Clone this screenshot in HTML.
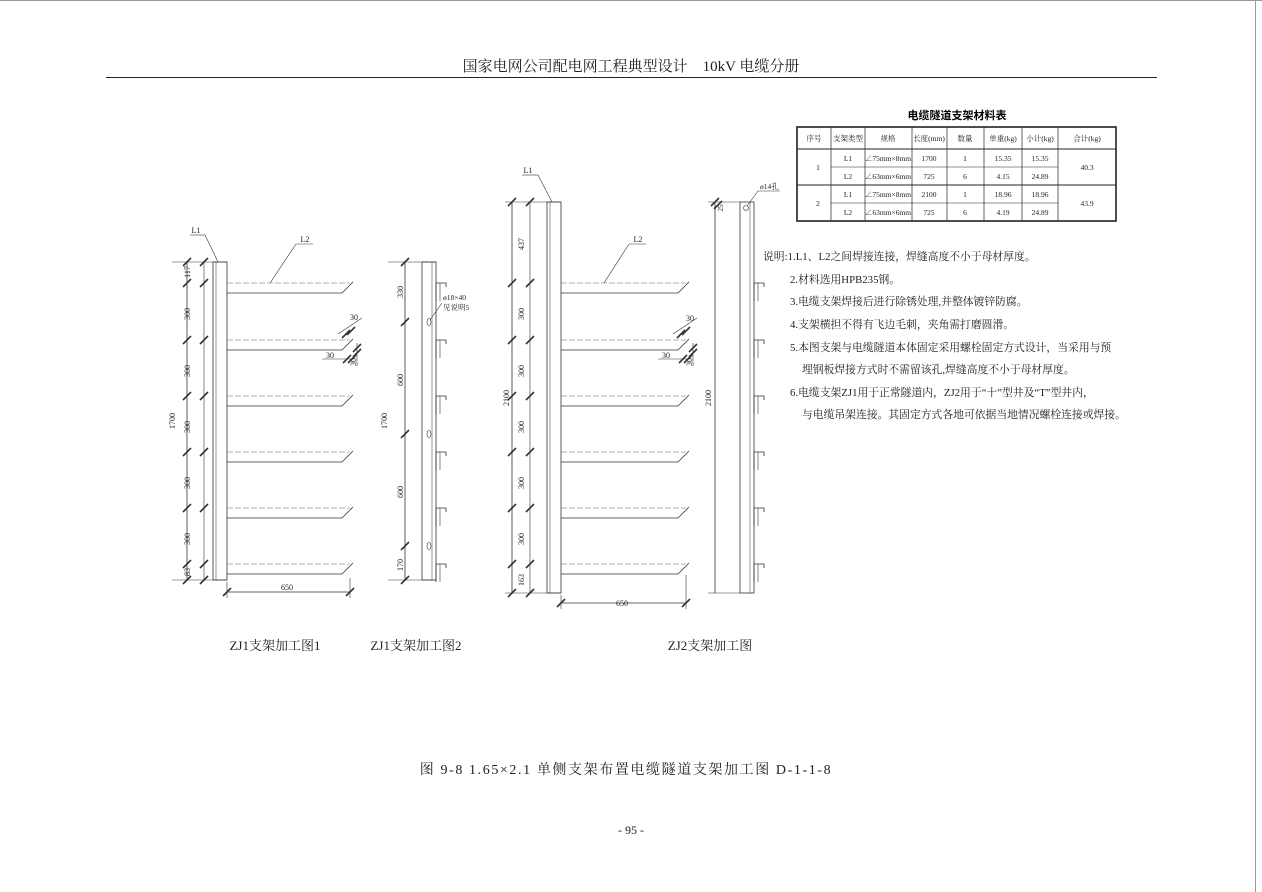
<!DOCTYPE html>
<html><head><meta charset="utf-8">
<style>
html,body{margin:0;padding:0;background:#fff;}
svg{display:block;font-family:"Liberation Serif","Noto Serif CJK SC","Noto Sans CJK SC",serif;}
</style></head>
<body>
<svg id="s" width="1262" height="892" viewBox="0 0 1262 892" xmlns="http://www.w3.org/2000/svg">
<rect x="0" y="0" width="1262" height="892" fill="#fff"/>
<line x1="0" y1="0.5" x2="1262" y2="0.5" stroke="#999" stroke-width="1"/>
<line x1="1255.5" y1="0" x2="1255.5" y2="892" stroke="#999" stroke-width="1"/>
<text x="631" y="71" font-size="15" text-anchor="middle" fill="#222">国家电网公司配电网工程典型设计　10kV 电缆分册</text>
<line x1="106" y1="77.5" x2="1157" y2="77.5" stroke="#222" stroke-width="1"/>

<!-- table -->
<text x="957" y="119" font-size="11" font-weight="bold" text-anchor="middle" font-family="Noto Sans CJK SC,sans-serif">电缆隧道支架材料表</text>
<g stroke="#222" fill="none">
<rect x="797" y="127" width="319" height="94" stroke-width="1.6"/>
<line x1="797" y1="149" x2="1116" y2="149"/>
<line x1="831" y1="167" x2="1058" y2="167" stroke-width="0.6"/>
<line x1="797" y1="185" x2="1116" y2="185"/>
<line x1="831" y1="203" x2="1058" y2="203" stroke-width="0.6"/>
<line x1="831" y1="127" x2="831" y2="221" stroke-width="0.7"/>
<line x1="865" y1="127" x2="865" y2="221" stroke-width="0.7"/>
<line x1="912" y1="127" x2="912" y2="221" stroke-width="0.7"/>
<line x1="947" y1="127" x2="947" y2="221" stroke-width="0.7"/>
<line x1="984" y1="127" x2="984" y2="221" stroke-width="0.7"/>
<line x1="1022" y1="127" x2="1022" y2="221" stroke-width="0.7"/>
<line x1="1058" y1="127" x2="1058" y2="221" stroke-width="0.7"/>
</g>
<g font-size="7.5" text-anchor="middle" fill="#222">
<text x="814" y="141">序号</text><text x="848" y="141">支架类型</text><text x="888" y="141">规格</text><text x="929" y="141">长度(mm)</text><text x="965" y="141">数量</text><text x="1003" y="141">单重(kg)</text><text x="1040" y="141">小计(kg)</text><text x="1087" y="141">合计(kg)</text>
<text x="818" y="170">1</text><text x="818" y="206">2</text>
<text x="848" y="161">L1</text><text x="848" y="179">L2</text><text x="848" y="197">L1</text><text x="848" y="215">L2</text>
<text x="888" y="161">∠75mm×8mm</text><text x="888" y="179">∠63mm×6mm</text><text x="888" y="197">∠75mm×8mm</text><text x="888" y="215">∠63mm×6mm</text>
<text x="929" y="161">1700</text><text x="929" y="179">725</text><text x="929" y="197">2100</text><text x="929" y="215">725</text>
<text x="965" y="161">1</text><text x="965" y="179">6</text><text x="965" y="197">1</text><text x="965" y="215">6</text>
<text x="1003" y="161">15.35</text><text x="1003" y="179">4.15</text><text x="1003" y="197">18.96</text><text x="1003" y="215">4.19</text>
<text x="1040" y="161">15.35</text><text x="1040" y="179">24.89</text><text x="1040" y="197">18.96</text><text x="1040" y="215">24.89</text>
<text x="1087" y="170">40.3</text><text x="1087" y="206">43.9</text>
</g>

<!-- notes -->
<g font-size="10.8" fill="#222">
<text x="763" y="260">说明:1.L1、L2之间焊接连接，焊缝高度不小于母材厚度。</text>
<text x="790" y="283">2.材料选用HPB235钢。</text>
<text x="790" y="305">3.电缆支架焊接后进行除锈处理,并整体镀锌防腐。</text>
<text x="790" y="328">4.支架横担不得有飞边毛刺，夹角需打磨圆滑。</text>
<text x="790" y="351">5.本图支架与电缆隧道本体固定采用螺栓固定方式设计，当采用与预</text>
<text x="802" y="373">埋钢板焊接方式时不需留该孔,焊缝高度不小于母材厚度。</text>
<text x="790" y="396">6.电缆支架ZJ1用于正常隧道内，ZJ2用于“十”型井及“T”型井内，</text>
<text x="802" y="418">与电缆吊架连接。其固定方式各地可依据当地情况螺栓连接或焊接。</text>
</g>

<g id="draw" stroke="#333" stroke-width="0.8" fill="none"></g>
<g id="txt" fill="#222" font-size="8"></g>

<g font-size="13" fill="#222" text-anchor="middle">
<text x="275" y="650">ZJ1支架加工图1</text>
<text x="416" y="650">ZJ1支架加工图2</text>
<text x="710" y="650">ZJ2支架加工图</text>
<text x="626" y="774" font-size="14" letter-spacing="1.6">图 9-8 1.65×2.1 单侧支架布置电缆隧道支架加工图 D-1-1-8</text>
<text x="631" y="834" font-size="12">- 95 -</text>
</g>
</svg>
<script>
var d=document.getElementById('draw'),t=document.getElementById('txt'),NS='http://www.w3.org/2000/svg';
function el(p,tag,a,txt){var e=document.createElementNS(NS,tag);for(var k in a)e.setAttribute(k,a[k]);if(txt)e.textContent=txt;p.appendChild(e);return e;}
function L(x1,y1,x2,y2,w,dash,col){var a={x1:x1,y1:y1,x2:x2,y2:y2};if(w)a['stroke-width']=w;if(dash)a['stroke-dasharray']=dash;if(col)a.stroke=col;el(d,'line',a);}
function tick(x,y){L(x-4,y+4,x+4,y-4,1.6);}
function T(x,y,s,rot,size){var a={x:x,y:y,'text-anchor':'middle'};if(size)a['font-size']=size;if(rot)a.transform='rotate(-90 '+x+' '+y+')';el(t,'text',a,s);}
var arms=[283,340,396,452,508,564];
function armSide(x0,x1){arms.forEach(function(y){L(x0,y,x1,y,0.6,'6 2','#666');L(x0,y+10,x1-8,y+10);L(x1-8,y+10,x1,y+2);L(x1,y+2,x1+3,y-1);});}
function armFront(x,ys){ys.forEach(function(y){el(d,'path',{d:'M'+x+' '+(y)+' h10 v4 M'+x+' '+(y)+' v18'});L(x+4,y,x+4,y+18,0.6);});}
// ZJ1-1
el(d,'rect',{x:213,y:262,width:14,height:318});L(216,262,216,580,0.5);
armSide(227,350);
L(187,262,187,580);L(172,262,227,262,0.6);L(172,580,227,580,0.6);
var ys1=[262,283,340,396,452,508,564,580];ys1.forEach(function(y){tick(187,y);tick(204,y)});L(204,262,204,580,0.6);
T(190,272,'117',1);[311,368,424,480,536].forEach(function(y){T(190,y+3,'300',1)});T(190,572,'83',1);T(175,421,'1700',1);
L(227,592,350,592);tick(227,592);tick(350,592);L(227,582,227,598,0.6);L(350,578,350,598,0.6);T(287,590,'650');
T(196,233,'L1');L(190,235,205,235,0.6);L(205,235,218,262,0.6);
T(305,242,'L2');L(296,244,313,244,0.6);L(296,244,270,283,0.6);
T(354,320,'30',0,8);T(330,358,'30',0,8);T(356,362,'30',1,8);
L(338,334,362,318,0.6);tick(346,334);tick(351,331);L(322,359,352,359,0.6);tick(347,359);tick(352,359);L(357,343,357,366,0.6);tick(357,353);tick(357,348);
// ZJ1-2
el(d,'rect',{x:422,y:262,width:14,height:318});L(432,262,432,580,0.5);
armFront(436,arms);
L(405,262,405,580);L(388,262,436,262,0.6);L(388,580,436,580,0.6);[262,322,434,546,580].forEach(function(y){tick(405,y)});
T(403,292,'330',1);T(403,380,'600',1);T(403,492,'600',1);T(403,565,'170',1);T(387,421,'1700',1);
[322,434,546].forEach(function(y){el(d,'ellipse',{cx:429,cy:y,rx:2,ry:3.5,'stroke-width':0.6})});
el(t,'text',{x:443,y:300,'font-size':7.5},'ø18×40');el(t,'text',{x:443,y:310,'font-size':7.5},'见说明5');L(430,320,442,303,0.6);
// ZJ2
el(d,'rect',{x:547,y:202,width:14,height:391});L(550,202,550,593,0.5);
armSide(561,686);
L(512,202,512,593);L(530,202,530,593,0.6);L(505,202,561,202,0.6);L(505,593,561,593,0.6);
[202,283,340,396,452,508,564,593].forEach(function(y){tick(512,y);tick(530,y)});
T(524,244,'437',1);[311,368,424,480,536].forEach(function(y){T(524,y+3,'300',1)});T(524,580,'163',1);T(509,398,'2100',1);
L(561,603,686,603);tick(561,603);tick(686,603);L(561,595,561,609,0.6);L(686,575,686,609,0.6);T(622,606,'650');
T(528,173,'L1');L(522,175,538,175,0.6);L(538,175,552,202,0.6);
T(638,242,'L2');L(629,244,646,244,0.6);L(629,244,604,283,0.6);
T(690,321,'30',0,8);T(666,358,'30',0,8);T(692,362,'30',1,8);
L(673,334,697,318,0.6);tick(681,334);tick(686,331);L(658,359,688,359,0.6);tick(683,359);tick(688,359);L(693,343,693,366,0.6);tick(693,353);tick(693,348);
// ZJ2 right view
el(d,'rect',{x:740,y:202,width:14,height:391});L(750,202,750,593,0.5);
armFront(754,arms);
L(715,202,715,593);L(708,202,740,202,0.6);L(708,593,740,593,0.6);tick(715,202);tick(718,205);T(723,208,'25',1,7);
T(711,398,'2100',1);
el(d,'circle',{cx:746,cy:208,r:2.5,'stroke-width':0.6});
el(t,'text',{x:760,y:189,'font-size':7.5},'ø14孔');L(758,191,780,191,0.6);L(758,191,747,206,0.6);
</script>
</body></html>
